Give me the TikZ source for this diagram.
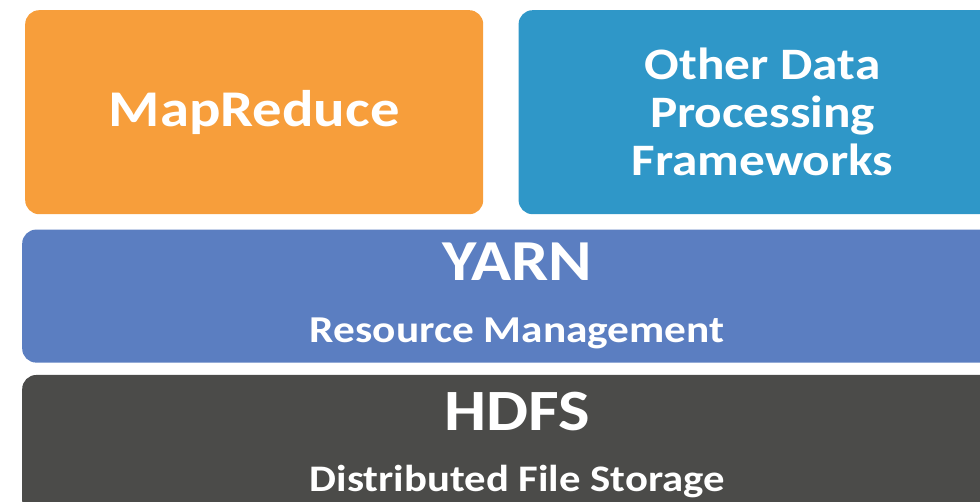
\documentclass[tikz,border=0pt]{standalone}
\usepackage{fontspec}
\setmainfont{Carlito}[FakeStretch=1.14]
\usetikzlibrary{positioning}
\definecolor{mrorange}{HTML}{F79E3B}
\definecolor{otherblue}{HTML}{2F97C8}
\definecolor{yarnblue}{HTML}{5B7EC1}
\definecolor{hdfsgray}{HTML}{4B4B49}

\begin{document}
\begin{tikzpicture}[x=1pt, y=1pt, inner sep=0pt,
    layer/.style={rounded corners=14pt, text=white, align=center},
    topbox/.style={layer, minimum height=204pt}]
    % keep the page at the reference size, wide layers run off the right edge
    \useasboundingbox (0,0) rectangle (980,-502);
    \clip (0,0) rectangle (980,-502);

    \node[topbox, fill=mrorange, minimum width=458pt, anchor=north west,
        font=\bfseries\fontsize{51.5}{56}\selectfont] (mapred) at (25,-10) {MapReduce};
    \node[topbox, fill=otherblue, minimum width=488pt,
        right=35pt of mapred.north east, anchor=north west,
        font=\bfseries\fontsize{45}{48}\selectfont] (other)
        {Other Data\\Processing\\Frameworks};

    \node[layer, fill=yarnblue, minimum width=990pt, minimum height=133pt,
        below=15pt of mapred.south west, anchor=north west, xshift=-3pt,
        font=\bfseries\fontsize{38}{40}\selectfont] (yarn)
        {{\fontsize{58}{58}\selectfont YARN}\\[22pt]Resource Management};
    \node[layer, fill=hdfsgray, minimum width=990pt, minimum height=140pt,
        below=12pt of yarn.south west, anchor=north west,
        font=\bfseries\fontsize{37.5}{42}\selectfont] (hdfs)
        {{\fontsize{58.5}{60}\selectfont HDFS}\\[19pt]Distributed File Storage};
\end{tikzpicture}
\end{document}
